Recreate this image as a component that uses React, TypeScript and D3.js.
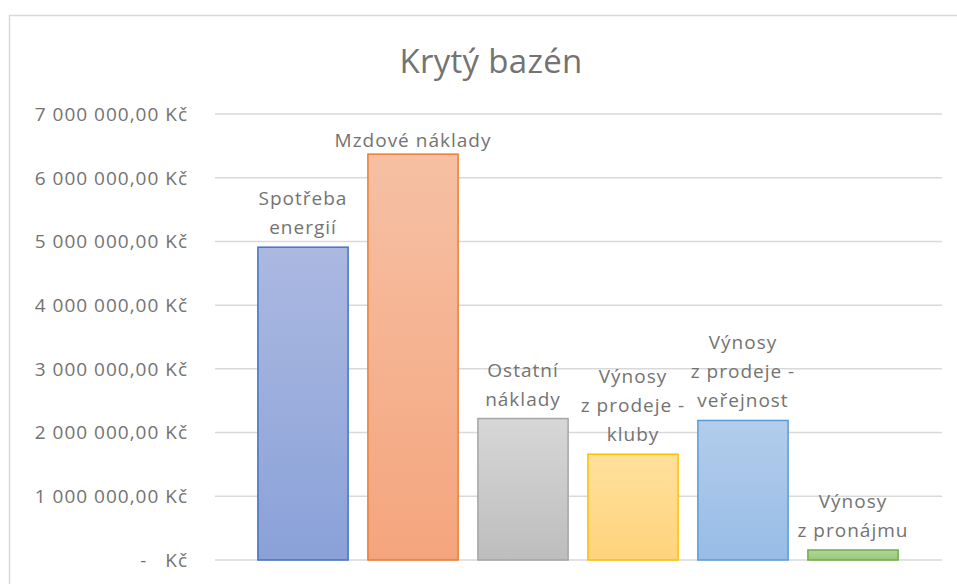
import React from "react";
import * as d3 from "d3";

const categories: string[][] = [
  ["Spotřeba", "energií"],
  ["Mzdové náklady"],
  ["Ostatní", "náklady"],
  ["Výnosy", "z prodeje -", "kluby"],
  ["Výnosy", "z prodeje -", "veřejnost"],
  ["Výnosy", "z pronájmu"],
];
const values: number[] = [4910000, 6370000, 2220000, 1660000, 2190000, 157000];
const tickValues: number[] = [0, 1000000, 2000000, 3000000, 4000000, 5000000, 6000000, 7000000];
const tickLabels: string[] = [
  "-   Kč",
  "1 000 000,00 Kč",
  "2 000 000,00 Kč",
  "3 000 000,00 Kč",
  "4 000 000,00 Kč",
  "5 000 000,00 Kč",
  "6 000 000,00 Kč",
  "7 000 000,00 Kč",
];
const title = "Krytý bazén";

const strokeColors = ["#4472c4", "#ed7d31", "#a5a5a5", "#ffc000", "#5b9bd5", "#70ad47"];
const topColors = ["#abb9e1", "#f6c0a4", "#d7d7d7", "#ffe19c", "#b3cdeb", "#b2d69b"];
const bottomColors = ["#8aa1d8", "#f4a57d", "#bdbdbd", "#ffd37d", "#97bce6", "#98c87a"];

const W = 957;
const H = 584;
const FONT = "'Open Sans', 'Noto Sans', sans-serif";
const TEXT = "#737373";

export default function App() {
  const names = categories.map((c) => c.join(" "));
  const x = d3.scaleBand<string>().domain(names).range([248, 908]).paddingInner(0.18).paddingOuter(0.09);
  const y = d3.scaleLinear().domain([0, 7000000]).range([560, 114]);
  const gridX1 = 215;
  const gridX2 = 942;

  return (
    <svg
      width={W}
      height={H}
      style={{ position: "absolute", left: 0, top: 0, background: "#fff" }}
      fontFamily={FONT}
    >
      <defs>
        {values.map((_, i) => (
          <linearGradient key={i} id={`g${i}`} x1="0" y1="0" x2="0" y2="1">
            <stop offset="0%" stopColor={topColors[i]} />
            <stop offset="100%" stopColor={bottomColors[i]} />
          </linearGradient>
        ))}
      </defs>
      <rect x={0} y={0} width={W} height={H} fill="#fff" />
      {/* chart area border */}
      <rect x={9.5} y={15.5} width={W + 20} height={H + 20} fill="none" stroke="#d9d9d9" strokeWidth={1.5} />
      {/* title */}
      <text x={491} y={73} textAnchor="middle" fontSize={33} fill={TEXT} letterSpacing={0.3}>
        {title}
      </text>
      {/* gridlines */}
      {tickValues.map((t) => (
        <line key={t} x1={gridX1} x2={gridX2} y1={y(t)} y2={y(t)} stroke="#d9d9d9" strokeWidth={1.5} />
      ))}
      {/* y tick labels */}
      {tickValues.map((t, i) => (
        <text
          key={t}
          x={188}
          y={y(t)}
          dy="0.36em"
          textAnchor="end"
          fontSize={19}
          fill={TEXT}
          letterSpacing={1.0}
          style={{ whiteSpace: "pre" }}
        >
          {tickLabels[i]}
        </text>
      ))}
      {/* bars */}
      {values.map((v, i) => {
        const bx = x(names[i]) as number;
        const bw = x.bandwidth();
        return (
          <rect
            key={i}
            x={bx}
            y={y(v)}
            width={bw}
            height={y(0) - y(v)}
            fill={`url(#g${i})`}
            stroke={strokeColors[i]}
            strokeWidth={1.5}
          />
        );
      })}
      {/* data labels */}
      {values.map((v, i) => {
        const cx = (x(names[i]) as number) + x.bandwidth() / 2;
        const lines = categories[i];
        const lastBase = Math.max(y(v) - 13, 147);
        return (
          <text key={i} textAnchor="middle" fontSize={19} fill={TEXT} letterSpacing={1.0}>
            {lines.map((ln, j) => (
              <tspan key={j} x={cx} y={lastBase - (lines.length - 1 - j) * 29}>
                {ln}
              </tspan>
            ))}
          </text>
        );
      })}
    </svg>
  );
}
